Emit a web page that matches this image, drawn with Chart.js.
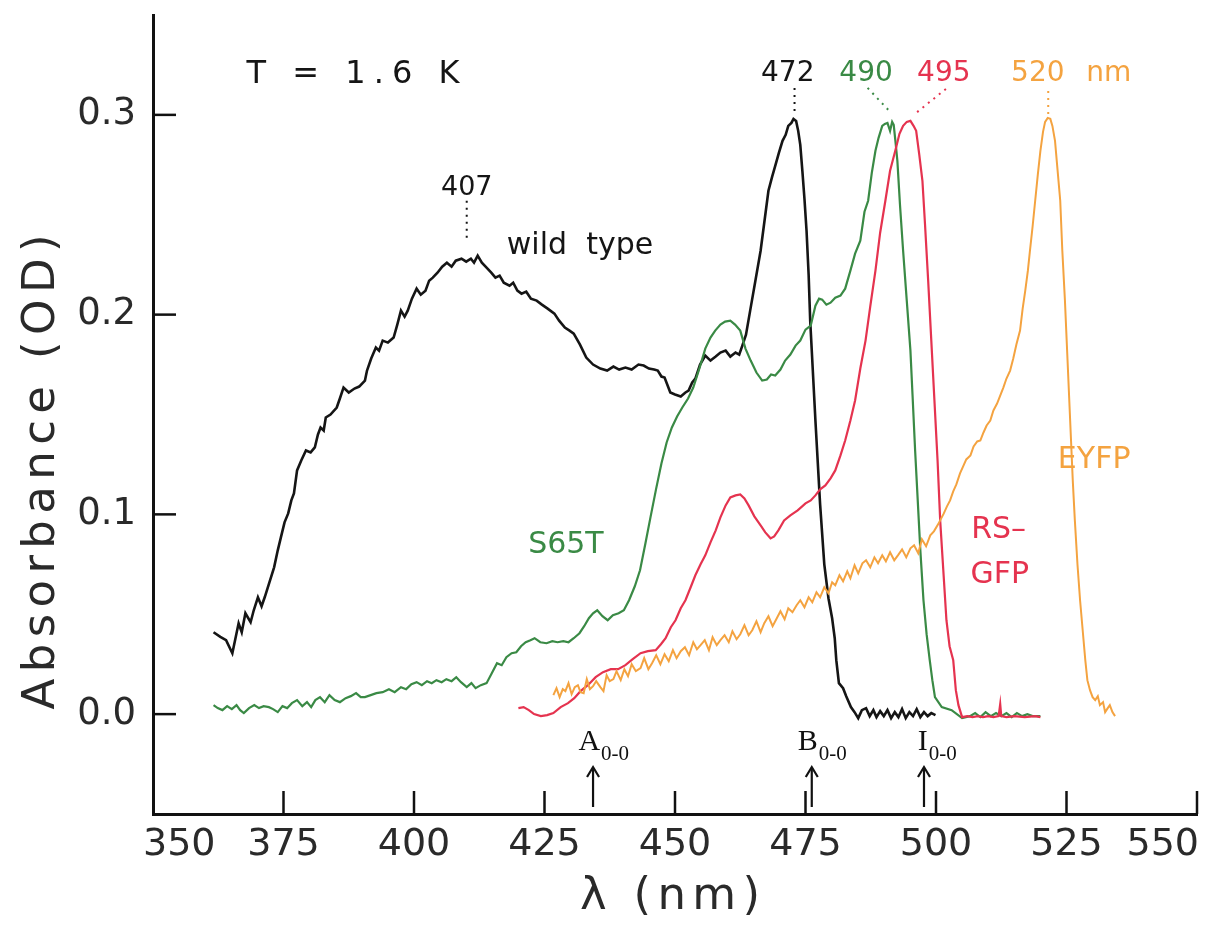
<!DOCTYPE html>
<html>
<head>
<meta charset="utf-8">
<script src="https://cdn.jsdelivr.net/npm/chart.js@4.4.0/dist/chart.umd.min.js"></script>
<style>
  html, body { margin: 0; padding: 0; background: #fff; }
  #wrap { width: 1208px; height: 926px; position: relative; }
</style>
</head>
<body>
<div id="wrap"><canvas id="js-chart-gfp"></canvas></div>
<script>
// wavelength (nm) / absorbance (OD)
const wtNm = [361.6,362.9,364.0,365.2,366.4,367.0,367.7,368.7,369.3,370.1,370.8,371.4,372.3,373.2,373.9,374.5,375.2,375.9,376.5,377.0,377.6,378.4,379.3,380.2,381.0,381.6,382.1,382.7,383.1,384.0,385.2,385.8,386.5,387.5,388.6,389.5,390.6,391.0,391.8,392.7,393.3,394.0,395.0,396.1,396.8,397.5,398.2,398.8,399.6,400.5,401.3,402.2,402.9,403.6,404.5,405.4,406.3,407.2,408.0,409.1,410.0,410.9,411.5,412.2,413.0,413.9,414.8,415.6,416.4,417.2,418.3,419.0,419.8,420.6,421.5,422.4,423.5,424.5,425.6,426.9,427.8,428.9,429.8,430.6,431.8,433.0,434.3,435.7,437.0,438.2,439.3,440.5,441.7,443.0,444.0,445.0,446.0,446.7,447.4,448.0,449.1,450.0,451.1,452.0,452.6,453.3,453.9,454.8,455.8,456.8,457.8,458.7,459.7,460.6,461.6,462.3,462.9,463.6,464.4,465.4,466.4,467.2,467.9,468.6,469.2,469.9,470.6,471.2,471.7,472.3,472.7,473.2,473.6,474.0,474.4,474.8,475.2,475.6,475.9,476.4,476.9,477.8,478.6,479.4,480.1,480.6,480.9,481.4,482.2,482.8,483.7,484.4,485.1,485.8,486.6,487.3,488.0,488.6,489.3,490.0,490.7,491.4,492.1,492.8,493.5,494.2,494.9,495.6,496.3,497.0,497.7,498.4,499.1,499.9];
const wtOd = [0.041,0.0387,0.037,0.0305,0.0455,0.041,0.0505,0.046,0.052,0.0585,0.054,0.0585,0.066,0.0735,0.082,0.0885,0.096,0.1005,0.107,0.1105,0.122,0.127,0.132,0.131,0.1335,0.140,0.1435,0.142,0.1485,0.150,0.1535,0.158,0.1635,0.161,0.163,0.164,0.167,0.172,0.178,0.1835,0.182,0.187,0.186,0.1885,0.195,0.202,0.199,0.202,0.208,0.213,0.210,0.212,0.217,0.2185,0.221,0.224,0.226,0.224,0.227,0.228,0.2265,0.228,0.226,0.2295,0.226,0.2235,0.221,0.2185,0.2195,0.216,0.2145,0.216,0.212,0.2105,0.2115,0.208,0.207,0.205,0.203,0.2005,0.197,0.1935,0.192,0.1905,0.185,0.1785,0.175,0.173,0.172,0.174,0.1725,0.1735,0.1725,0.175,0.1745,0.173,0.1725,0.172,0.169,0.1685,0.161,0.160,0.159,0.161,0.162,0.166,0.168,0.175,0.1795,0.177,0.179,0.181,0.182,0.179,0.181,0.180,0.1845,0.190,0.202,0.217,0.232,0.248,0.262,0.269,0.2745,0.281,0.287,0.290,0.2945,0.296,0.298,0.297,0.292,0.285,0.272,0.258,0.242,0.220,0.197,0.172,0.147,0.105,0.075,0.058,0.048,0.038,0.027,0.0155,0.013,0.009,0.0035,0.001,-0.002,0.002,0.003,-0.001,0.002,-0.0015,0.0015,-0.001,0.002,-0.002,0.001,-0.0015,0.0025,-0.002,0.001,-0.001,0.0025,-0.0015,0.001,-0.001,0.0005,-0.0005];

const s65tNm = [361.6,362.4,363.3,364.2,365.1,366.0,366.7,367.4,368.4,369.4,370.3,371.2,372.2,373.0,373.9,374.8,375.7,376.6,377.6,378.6,379.5,380.3,381.1,382.0,382.9,383.8,384.8,385.8,386.9,387.9,388.9,389.8,390.6,391.7,392.8,394.0,395.2,396.3,397.5,398.5,399.5,400.5,401.5,402.5,403.4,404.3,405.3,406.2,407.2,408.1,409.0,410.1,411.0,411.8,412.8,413.9,414.9,415.9,416.8,417.7,418.7,419.6,420.5,421.4,422.3,423.1,424.2,425.4,426.5,427.5,428.6,429.6,430.6,431.7,432.6,433.5,434.3,435.1,436.1,437.1,438.1,439.2,440.2,441.2,442.3,443.3,444.3,445.3,446.4,447.4,448.4,449.4,450.4,451.4,452.5,453.5,454.9,455.8,456.8,457.7,458.7,459.6,460.6,461.5,462.5,463.5,464.5,465.6,466.7,467.6,468.4,469.2,470.2,471.1,472.1,473.1,474.0,475.0,476.0,476.9,477.6,478.2,479.0,479.8,480.7,481.7,482.6,483.6,484.5,485.5,486.3,487.0,487.7,488.4,489.0,489.7,490.2,490.7,491.2,491.6,491.9,492.3,492.6,493.1,493.7,494.4,495.1,495.5,496.0,496.5,497.0,497.6,498.2,498.8,499.3,499.8,501.1,503.0,505.0,506.5,507.5,508.5,509.5,510.5,511.5,512.5,513.5,514.5,515.5,516.5,517.5,518.5,520.0];
const s65tOd = [0.0045,0.003,0.002,0.004,0.0025,0.0045,0.002,0.0005,0.003,0.0045,0.003,0.004,0.0035,0.0025,0.001,0.004,0.003,0.0055,0.007,0.004,0.006,0.0035,0.007,0.0085,0.006,0.0095,0.007,0.006,0.008,0.009,0.0105,0.0085,0.0085,0.0095,0.0105,0.011,0.0125,0.011,0.0135,0.0125,0.015,0.016,0.0145,0.0165,0.0155,0.017,0.016,0.0175,0.0165,0.0185,0.016,0.0135,0.0155,0.013,0.0145,0.0155,0.0205,0.0255,0.0245,0.0285,0.0305,0.031,0.034,0.036,0.037,0.038,0.036,0.0355,0.0365,0.036,0.0365,0.036,0.038,0.0405,0.044,0.048,0.0505,0.052,0.049,0.047,0.0495,0.0505,0.052,0.057,0.064,0.072,0.085,0.0985,0.113,0.1255,0.136,0.1435,0.149,0.1535,0.158,0.1635,0.175,0.183,0.1885,0.192,0.195,0.1965,0.197,0.195,0.192,0.183,0.177,0.171,0.167,0.1675,0.170,0.1695,0.1725,0.177,0.180,0.1845,0.187,0.1925,0.1945,0.2045,0.208,0.2075,0.205,0.206,0.2085,0.2095,0.213,0.222,0.2305,0.237,0.2515,0.257,0.271,0.282,0.2885,0.2945,0.2955,0.296,0.292,0.2965,0.295,0.285,0.277,0.255,0.232,0.207,0.182,0.160,0.132,0.107,0.082,0.057,0.040,0.027,0.017,0.0085,0.0035,0.002,-0.002,-0.001,0.0005,-0.0015,0.001,-0.001,0.0005,-0.001,0.0005,-0.0015,0.0005,-0.001,0.0,-0.001,-0.001];

const rsNm = [420.0,421.0,422.0,423.0,424.3,425.5,426.7,428.1,429.5,430.7,431.9,433.3,434.8,436.2,437.7,439.1,440.5,441.9,443.4,444.8,446.3,447.3,448.2,449.2,450.1,451.1,452.0,453.0,453.9,454.9,455.8,456.8,457.8,458.7,459.7,460.6,461.6,462.5,463.3,464.1,465.2,466.4,467.3,468.3,469.0,469.8,470.9,472.1,473.5,475.0,476.0,476.9,477.8,478.8,479.8,480.7,481.7,482.6,483.6,484.5,485.5,486.5,487.4,488.4,489.3,490.3,491.2,492.2,493.0,493.7,494.4,495.1,495.7,496.2,496.8,497.4,497.9,498.5,499.1,499.7,500.3,500.8,501.4,502.0,502.6,503.3,503.8,504.3,505.0,506.0,507.0,508.0,509.0,510.0,511.0,512.0,512.3,512.5,513.5,515.0,517.0,519.0,520.0];
const rsOd = [0.003,0.0035,0.002,0.0,-0.001,-0.0005,0.0005,0.0035,0.0055,0.008,0.0115,0.0145,0.0185,0.021,0.0225,0.0225,0.0245,0.0275,0.0305,0.0315,0.032,0.035,0.038,0.0435,0.047,0.053,0.057,0.0635,0.0695,0.075,0.0795,0.086,0.092,0.0985,0.1045,0.1085,0.1095,0.110,0.108,0.1045,0.099,0.0945,0.091,0.088,0.089,0.092,0.097,0.0995,0.102,0.1055,0.107,0.1095,0.1125,0.1145,0.118,0.122,0.1295,0.137,0.147,0.157,0.173,0.187,0.204,0.222,0.241,0.257,0.272,0.282,0.2905,0.2945,0.2965,0.297,0.2945,0.292,0.280,0.267,0.245,0.217,0.187,0.157,0.127,0.097,0.072,0.047,0.034,0.027,0.012,0.0045,-0.0015,-0.001,-0.0015,-0.001,-0.0015,-0.001,-0.0015,-0.001,0.005,-0.001,-0.0015,-0.001,-0.0015,-0.001,-0.0015];

const eyfpNm = [426.7,427.3,427.9,428.5,429.0,429.6,430.2,430.8,431.4,431.9,432.5,433.1,433.7,434.3,434.9,435.7,436.3,436.9,437.5,438.2,438.8,439.6,440.3,441.0,441.7,442.5,443.4,444.1,444.9,445.6,446.4,447.2,448.0,448.8,449.6,450.3,451.1,451.9,452.7,453.5,454.2,454.9,455.7,456.5,457.2,458.0,458.7,459.5,460.3,461.0,461.8,462.5,463.3,464.1,464.8,465.6,466.4,467.1,467.9,468.7,469.4,470.2,471.0,471.7,472.5,473.3,474.0,474.8,475.6,476.3,477.1,477.8,478.6,479.4,480.1,480.7,481.5,482.2,483.0,483.6,484.4,485.1,485.9,486.6,487.4,488.2,488.9,489.7,490.4,491.2,492.0,492.7,493.5,494.3,495.1,495.8,496.6,497.3,498.1,498.9,499.6,500.4,500.8,501.5,502.1,502.7,503.3,503.9,504.6,505.2,505.8,506.6,507.2,507.9,508.5,509.1,509.7,510.4,511.0,511.7,512.3,512.9,513.5,514.2,514.8,515.4,516.1,516.6,517.1,517.6,518.0,518.5,519.0,519.5,520.0,520.5,520.9,521.4,521.9,522.3,522.8,523.3,523.8,524.2,524.7,525.2,525.7,526.2,526.6,527.1,527.6,528.1,528.6,529.0,529.5,530.0,530.5,531.0,531.4,532.0,532.4,532.9,533.3,533.8,534.3];
const eyfpOd = [0.0095,0.013,0.0085,0.0125,0.0115,0.0155,0.010,0.0135,0.0145,0.011,0.0105,0.0175,0.0125,0.014,0.0165,0.0135,0.0115,0.0195,0.0165,0.0175,0.0215,0.017,0.0225,0.019,0.025,0.0215,0.023,0.028,0.0225,0.0255,0.0295,0.025,0.030,0.0265,0.032,0.028,0.0315,0.0335,0.0295,0.036,0.0325,0.0345,0.037,0.032,0.0385,0.0345,0.037,0.0395,0.036,0.0415,0.0375,0.040,0.0445,0.0395,0.042,0.0465,0.041,0.0455,0.049,0.044,0.0475,0.0515,0.0475,0.053,0.051,0.0545,0.057,0.0535,0.0585,0.056,0.061,0.0585,0.0635,0.0605,0.066,0.0645,0.0695,0.0665,0.0715,0.068,0.0745,0.0705,0.0755,0.077,0.0735,0.0785,0.0755,0.0795,0.0765,0.081,0.077,0.0795,0.0825,0.0785,0.083,0.0845,0.0805,0.0875,0.084,0.0895,0.0915,0.095,0.097,0.1005,0.104,0.107,0.1115,0.115,0.1205,0.124,0.1275,0.1295,0.134,0.1365,0.137,0.141,0.1445,0.147,0.152,0.1555,0.1595,0.1635,0.168,0.172,0.178,0.185,0.192,0.203,0.212,0.222,0.232,0.244,0.257,0.270,0.282,0.2915,0.2965,0.2985,0.298,0.2945,0.287,0.272,0.257,0.232,0.207,0.177,0.147,0.117,0.097,0.075,0.057,0.042,0.027,0.017,0.012,0.0085,0.007,0.009,0.0045,0.006,0.001,0.003,0.0045,0.001,-0.001];

const xTicks = [350, 375, 400, 425, 450, 475, 500, 525, 550];
const yTicks = [0, 0.1, 0.2, 0.3];

const BLACK = "#151515", GREEN = "#3a8a45", RED = "#e5334f", ORANGE = "#f4a340";
const FONT = "'DejaVu Sans', sans-serif";

// text labels and markers, placed in data units
const labels = [
  { text: "407", nm: 410.1, od: 0.2635, color: BLACK, size: 27 },
  { text: "472", nm: 471.6, od: 0.3205, color: BLACK, size: 28 },
  { text: "490", nm: 486.6, od: 0.3205, color: GREEN, size: 28 },
  { text: "495", nm: 501.5, od: 0.3205, color: RED, size: 28 },
  { text: "520", nm: 519.5, od: 0.3205, color: ORANGE, size: 28 },
  { text: "nm", nm: 533.1, od: 0.3205, color: ORANGE, size: 28 },
  { text: "wild  type", nm: 431.8, od: 0.2345, color: BLACK, size: 30 },
  { text: "S65T", nm: 429.1, od: 0.0845, color: GREEN, size: 30 },
  { text: "EYFP", nm: 530.3, od: 0.127, color: ORANGE, size: 30 },
  { text: "RS\u2013", nm: 512.0, od: 0.092, color: RED, size: 30 },
  { text: "GFP", nm: 512.2, od: 0.0695, color: RED, size: 30 }
];
const leaders = [
  { x1: 410.1, y1: 0.257, x2: 410.1, y2: 0.237, color: BLACK },
  { x1: 472.9, y1: 0.3135, x2: 472.9, y2: 0.3005, color: BLACK },
  { x1: 486.9, y1: 0.3135, x2: 491.4, y2: 0.301, color: GREEN },
  { x1: 501.9, y1: 0.313, x2: 496.2, y2: 0.301, color: RED },
  { x1: 521.5, y1: 0.312, x2: 521.5, y2: 0.2995, color: ORANGE }
];
const origins = [
  { letter: "A", nm: 434.3, textNm: 431.5 },
  { letter: "B", nm: 476.2, textNm: 473.5 },
  { letter: "I", nm: 497.7, textNm: 496.5 }
];

function pts(xs, ys) { return xs.map((x, i) => ({ x: x, y: ys[i] })); }

function fitText(ctx, text, cx, cy, width) {
  ctx.letterSpacing = "0px";
  const w = ctx.measureText(text).width;
  const ls = (width - w) / (text.length - 1);
  ctx.letterSpacing = ls + "px";
  ctx.textAlign = "left";
  ctx.fillText(text, cx - width / 2, cy);
  ctx.letterSpacing = "0px";
}

const decor = {
  id: "decor",
  afterDraw(chart) {
    const ctx = chart.ctx, xs = chart.scales.x, ys = chart.scales.y;
    const area = chart.chartArea;
    ctx.save();
    // inward tick marks
    ctx.strokeStyle = "#111";
    ctx.lineWidth = 2.5;
    xTicks.forEach(v => {
      if (v === 350) return;
      const px = xs.getPixelForValue(v);
      ctx.beginPath(); ctx.moveTo(px, area.bottom); ctx.lineTo(px, area.bottom - 23); ctx.stroke();
    });
    yTicks.forEach(v => {
      const py = ys.getPixelForValue(v);
      ctx.beginPath(); ctx.moveTo(area.left, py); ctx.lineTo(area.left + 23, py); ctx.stroke();
    });

    // tick labels
    ctx.fillStyle = "#2a2a2a";
    ctx.textBaseline = "middle";
    ctx.font = "38px " + FONT;
    xTicks.forEach((v, i) => {
      let px = xs.getPixelForValue(v);
      ctx.textAlign = "center";
      if (i === 0) { ctx.textAlign = "left"; px -= 10; }
      if (i === xTicks.length - 1) { ctx.textAlign = "right"; px += 2; }
      ctx.fillText(String(v), px, area.bottom + 31);
    });
    ctx.font = "37px " + FONT;
    ctx.textAlign = "right";
    yTicks.forEach(v => {
      ctx.fillText(v.toFixed(1), area.left - 17, ys.getPixelForValue(v));
    });

    // dotted leaders
    ctx.lineWidth = 2;
    ctx.setLineDash([2, 5]);
    leaders.forEach(l => {
      ctx.strokeStyle = l.color;
      ctx.beginPath();
      ctx.moveTo(xs.getPixelForValue(l.x1), ys.getPixelForValue(l.y1));
      ctx.lineTo(xs.getPixelForValue(l.x2), ys.getPixelForValue(l.y2));
      ctx.stroke();
    });
    ctx.setLineDash([]);

    // labels
    ctx.textBaseline = "middle";
    ctx.textAlign = "center";
    labels.forEach(l => {
      ctx.fillStyle = l.color;
      ctx.font = l.size + "px " + FONT;
      ctx.fillText(l.text, xs.getPixelForValue(l.nm), ys.getPixelForValue(l.od));
    });
    ctx.fillStyle = BLACK;
    ctx.font = "32px " + FONT;
    fitText(ctx, "T = 1.6 K", 353, 75, 213);

    // 0-0 origin arrows
    origins.forEach(o => {
      const px = xs.getPixelForValue(o.nm);
      const top = ys.getPixelForValue(-0.0265), bot = ys.getPixelForValue(-0.0465);
      ctx.strokeStyle = "#111"; ctx.lineWidth = 2.2;
      ctx.beginPath(); ctx.moveTo(px, bot); ctx.lineTo(px, top + 2); ctx.stroke();
      ctx.beginPath(); ctx.moveTo(px - 6, top + 10); ctx.lineTo(px, top); ctx.lineTo(px + 6, top + 10); ctx.stroke();
      const tx = xs.getPixelForValue(o.textNm);
      const base = ys.getPixelForValue(-0.018);
      ctx.fillStyle = "#111";
      ctx.textAlign = "left"; ctx.textBaseline = "alphabetic";
      ctx.font = "30px 'Liberation Serif', serif";
      ctx.fillText(o.letter, tx, base);
      const lw = ctx.measureText(o.letter).width;
      ctx.font = "21px 'Liberation Serif', serif";
      ctx.fillText("0-0", tx + lw + 1, base + 10);
    });

    // axis titles
    ctx.fillStyle = "#2a2a2a";
    ctx.textBaseline = "middle";
    ctx.font = "45px " + FONT;
    fitText(ctx, "\u03bb (nm)", 670, 897, 180);
    ctx.translate(42, 472);
    ctx.rotate(-Math.PI / 2);
    fitText(ctx, "Absorbance (OD)", 0, 0, 475);
    ctx.restore();
  }
};

const line = (data, color, width) => ({
  data: data, showLine: true, borderColor: color, borderWidth: width,
  pointRadius: 0, fill: false, tension: 0
});

new Chart(document.getElementById("js-chart-gfp"), {
  type: "scatter",
  data: {
    datasets: [
      line(pts(eyfpNm, eyfpOd), ORANGE, 2),
      line(pts(rsNm, rsOd), RED, 2.2),
      line(pts(s65tNm, s65tOd), GREEN, 2.2),
      line(pts(wtNm, wtOd), BLACK, 2.6)
    ]
  },
  options: {
    responsive: true,
    maintainAspectRatio: false,
    animation: false,
    layout: { padding: { top: 15, right: 11, left: 0, bottom: 0 } },
    plugins: { legend: { display: false }, tooltip: { enabled: false } },
    scales: {
      x: {
        type: "linear", min: 350, max: 550,
        afterBuildTicks: s => { s.ticks = xTicks.map(v => ({ value: v })); },
        afterFit: s => { s.height = 112; s.paddingLeft = 0; s.paddingRight = 0; },
        grid: { display: false },
        border: { display: true, color: "#111", width: 3 },
        ticks: { display: false }
      },
      y: {
        min: -0.05, max: 0.35,
        afterBuildTicks: s => { s.ticks = yTicks.map(v => ({ value: v })); },
        afterFit: s => { s.width = 153; s.paddingTop = 0; s.paddingBottom = 0; },
        grid: { display: false },
        border: { display: true, color: "#111", width: 3 },
        ticks: { display: false }
      }
    }
  },
  plugins: [decor]
});
</script>
</body>
</html>
